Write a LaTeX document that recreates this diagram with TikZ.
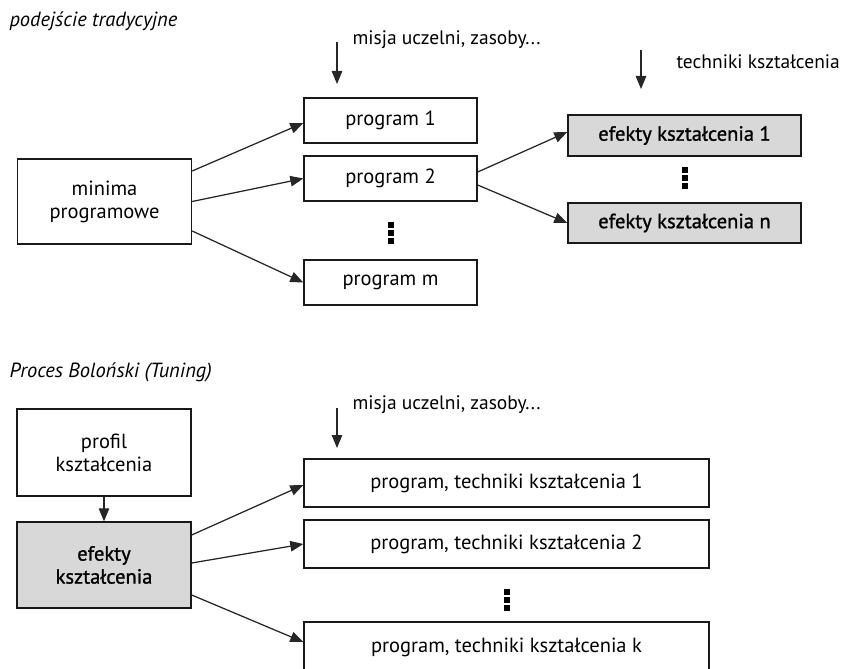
\documentclass[tikz,border=0pt]{standalone}
\usepackage{fontspec}
\setmainfont{PT Sans}
\newfontfamily\heavier[FakeBold=1.2]{PT Sans}
\usetikzlibrary{arrows.meta}
\definecolor{shade}{HTML}{D8D8D8}
\tikzset{
  x=1pt, y=-1pt,
  every node/.style={font=\fontsize{20.5}{23}\selectfont, text=black},
  box/.style={draw=black!90, line width=1.4pt, inner sep=0pt, align=center},
  shadedbox/.style={box, fill=shade, font=\heavier\fontsize{20.5}{23}\selectfont},
  link/.style={draw=black!85, line width=1.25pt, -{Triangle[length=13pt,width=10.5pt]}},
  heading/.style={anchor=west, font=\fontsize{20.5}{23}\selectfont\itshape},
  note/.style={anchor=west, font=\fontsize{19.5}{22}\selectfont},
  dotbar/.style={fill=black}
}
\begin{document}
\begin{tikzpicture}
\useasboundingbox (0,0) rectangle (849,669);

% ---------- traditional approach ----------
\node[heading] (h1) at (6,21) {podejście tradycyjne};

\node[box, minimum width=174pt, minimum height=85pt] (min) at (104.5,201.5) {minima\\programowe};
\node[box, minimum width=173pt, minimum height=45pt] (p1) at (390.5,120.5) {program 1};
\node[box, minimum width=173pt, minimum height=45pt] (p2) at (390.5,178.5) {program 2};
\node[box, minimum width=173pt, minimum height=45pt] (pm) at (390.5,282.5) {program m};

\node[note] (m1) at (349,40) {misja uczelni, zasoby...};
\coordinate (m1top) at (337,42);
\coordinate (m1tip) at (337,84);
\draw[link] (m1top) -- (m1tip);

\node[note] (t1) at (673,62) {techniki kształcenia};
\coordinate (t1top) at (641,50);
\coordinate (t1tip) at (641,89);
\draw[link] (t1top) -- (t1tip);

\node[shadedbox, minimum width=233pt, minimum height=41pt] (e1) at (684.5,135.5) {efekty kształcenia 1};
\node[shadedbox, minimum width=233pt, minimum height=40pt] (en) at (684.5,223) {efekty kształcenia n};

\draw[link] ([yshift=30.5pt]min.east) -- ([yshift=-2.5pt]p1.west);
\draw[link] (min.east) -- (p2.west);
\draw[link] ([yshift=-29.5pt]min.east) -- (pm.west);
\draw[link] ([yshift=6.5pt]p2.east) -- ([yshift=3.5pt]e1.west);
\draw[link] ([yshift=-6.5pt]p2.east) -- (en.west);

% vertical ellipses
\foreach \yy in {225,233,241} \fill[dotbar] (387.5,\yy-3) rectangle (393.5,\yy+3);
\foreach \yy in {170,178,186} \fill[dotbar] (682,\yy-3) rectangle (688,\yy+3);

% ---------- Bologna process ----------
\node[heading] (h2) at (6,372) {Proces Boloński (Tuning)};

\node[box, minimum width=174pt, minimum height=87pt] (prof) at (104,452.5) {profil\\kształcenia};
\node[shadedbox, minimum width=174pt, minimum height=86pt] (ef) at (104,565) {efekty\\kształcenia};
\draw[link] (prof) -- (ef);

\node[note] (m2) at (349,405) {misja uczelni, zasoby...};
\coordinate (m2top) at (337,408);
\coordinate (m2tip) at (337,448);
\draw[link] (m2top) -- (m2tip);

\node[box, minimum width=405pt, minimum height=48pt] (b1) at (506.5,483) {program, techniki kształcenia 1};
\node[box, minimum width=405pt, minimum height=48pt] (b2) at (506.5,544) {program, techniki kształcenia 2};
\node[box, minimum width=405pt, minimum height=50pt] (bk) at (506.5,647) {program, techniki kształcenia k};

\draw[link] ([yshift=30pt]ef.east) -- ([yshift=-2pt]b1.west);
\draw[link] ([yshift=2pt]ef.east) -- (b2.west);
\draw[link] ([yshift=-30pt]ef.east) -- ([yshift=5pt]bk.west);

\foreach \yy in {592,600,608} \fill[dotbar] (504,\yy-3) rectangle (510,\yy+3);
\end{tikzpicture}
\end{document}
